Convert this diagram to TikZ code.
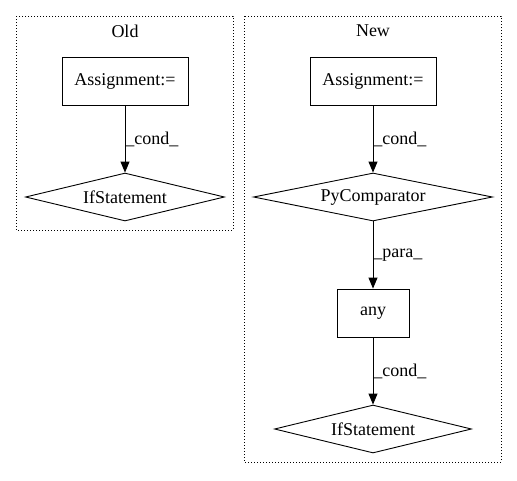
\documentclass[tikz,border=0pt]{standalone}
\usepackage{fontspec}
\setmainfont{Liberation Serif}
\usetikzlibrary{shapes.geometric,arrows.meta}

\begin{document}
\begin{tikzpicture}[x = 1pt, y = -1pt, line width = 0.9pt,
                      font = \fontsize{18}{20}\selectfont,
                      box/.style = {rectangle, draw, minimum width = 126pt, minimum height = 48pt, inner sep = 0pt},
                      decision/.style = {diamond, draw, minimum height = 48pt, inner sep = 0pt},
                      cluster/.style = {draw, dotted, line width = 1pt},
                      edgelabel/.style = {right, inner sep = 0pt},
                      >={Triangle[length = 11pt, width = 9pt]}]
    \useasboundingbox (0, 0) rectangle (517, 480);
    \draw [cluster] (16, 16) rectangle (233, 230);
    \draw [cluster] (244, 16) rectangle (501, 462);
    \node (old) at (125, 31){Old};
    \node (new) at (373, 31){New};
    \node [box] (oldassign) at (125, 81){Assignment:=};
    \node [decision, minimum width = 199pt, aspect = 4.15] (oldif) at (125, 197){IfStatement};
    \node [box] (newassign) at (373, 81){Assignment:=};
    \node [decision, minimum width = 239pt, aspect = 4.98] (pycomp) at (373, 197){PyComparator};
    \node [box, minimum width = 72pt] (any) at (373, 313){any};
    \node [decision, minimum width = 197pt, aspect = 4.1] (newif) at (373, 429){IfStatement};
    \draw [->] (oldassign) -- node [edgelabel] {\_cond\_} (oldif);
    \draw [->] (newassign) -- node [edgelabel] {\_cond\_} (pycomp);
    \draw [->] (pycomp) -- node [edgelabel] {\_para\_} (any);
    \draw [->] (any) -- node [edgelabel] {\_cond\_} (newif);
    \end{tikzpicture}
\end{document}
